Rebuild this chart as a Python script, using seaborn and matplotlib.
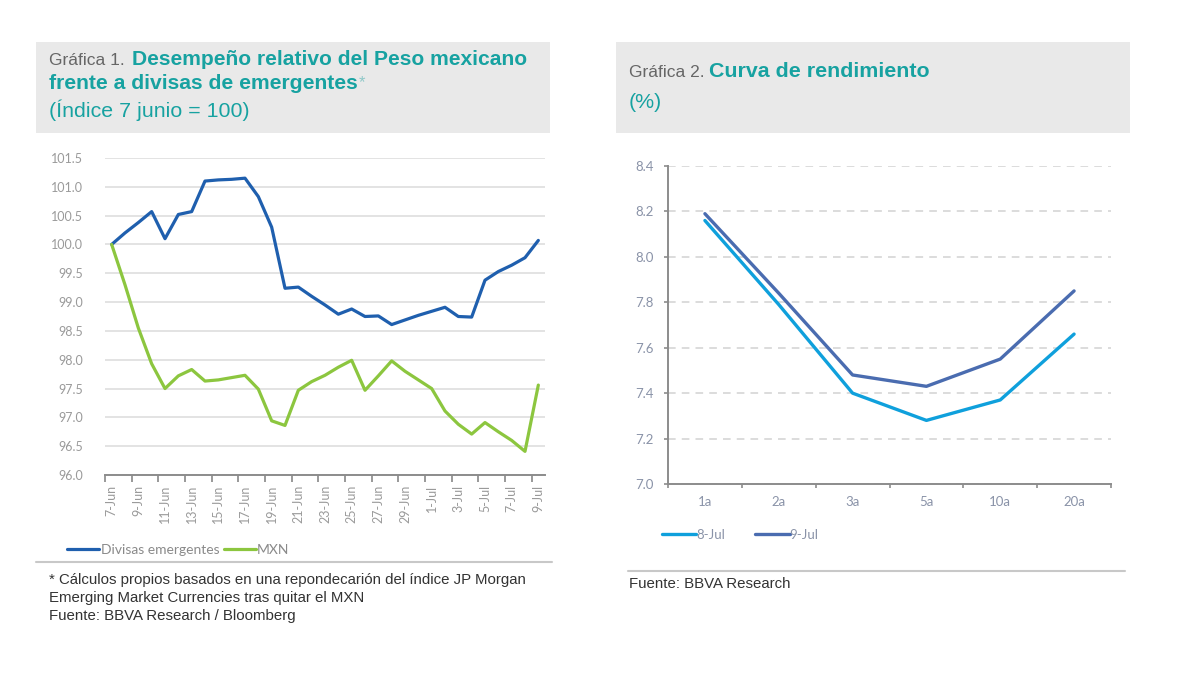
import numpy as np
import pandas as pd
import matplotlib
matplotlib.use("Agg")
import matplotlib.pyplot as plt
import seaborn as sns
from matplotlib.lines import Line2D
from matplotlib.patches import Rectangle

# ---------------- data ----------------
fechas = ["7-Jun", "8-Jun", "9-Jun", "10-Jun", "11-Jun", "12-Jun", "13-Jun", "14-Jun",
          "15-Jun", "16-Jun", "17-Jun", "18-Jun", "19-Jun", "20-Jun", "21-Jun", "22-Jun",
          "23-Jun", "24-Jun", "25-Jun", "26-Jun", "27-Jun", "28-Jun", "29-Jun", "30-Jun",
          "1-Jul", "2-Jul", "3-Jul", "4-Jul", "5-Jul", "6-Jul", "7-Jul", "8-Jul", "9-Jul"]
divisas = [100.0, 100.2, 100.38, 100.57, 100.1, 100.52, 100.57, 101.1, 101.12, 101.13,
           101.15, 100.83, 100.3, 99.24, 99.26, 99.1, 98.95, 98.79, 98.88, 98.75,
           98.76, 98.61, 98.69, 98.77, 98.84, 98.91, 98.75, 98.74, 99.38, 99.53,
           99.64, 99.77, 100.07]
mxn = [100.0, 99.3, 98.55, 97.93, 97.5, 97.72, 97.83, 97.63, 97.65, 97.69,
       97.73, 97.49, 96.94, 96.86, 97.47, 97.62, 97.73, 97.87, 97.99, 97.47,
       97.72, 97.98, 97.8, 97.65, 97.5, 97.11, 96.88, 96.71, 96.91, 96.75,
       96.6, 96.41, 97.56]
series_izq = ["Divisas emergentes", "MXN"]

plazos = ["1a", "2a", "3a", "5a", "10a", "20a"]
jul8 = [8.16, 7.79, 7.40, 7.28, 7.37, 7.66]
jul9 = [8.19, 7.84, 7.48, 7.43, 7.55, 7.85]
series_der = ["8-Jul", "9-Jul"]

y_ticks_izq = [96.0, 96.5, 97.0, 97.5, 98.0, 98.5, 99.0, 99.5, 100.0, 100.5, 101.0, 101.5]
y_ticks_der = [7.0, 7.2, 7.4, 7.6, 7.8, 8.0, 8.2, 8.4]

# ---------------- style ----------------
sns.set_theme(style="white")
plt.rcParams["font.family"] = ["Liberation Sans", "DejaVu Sans"]

W, H = 1198, 680
fig = plt.figure(figsize=(W / 100, H / 100), dpi=100)
fig.patch.set_facecolor("white")

def fx(px):
    return px / W

def fy(py):
    return 1 - py / H

TEAL = "#17a2a1"
GRAYT = "#666666"
C_DIV = "#1f5fae"
C_MXN = "#8cc63f"
C_8 = "#0fa0dc"
C_9 = "#4a6cb0"
TICK_L = "#9a9a9a"
TICK_R = "#8a93a8"
TICKFONT = ["Lato", "DejaVu Sans"]

# ---------------- title boxes ----------------
fig.add_artist(Rectangle((fx(36), fy(133)), (550 - 36) / W, (133 - 42) / H,
                         transform=fig.transFigure, facecolor="#e9e9e9",
                         edgecolor="none", zorder=0))
fig.add_artist(Rectangle((fx(616), fy(133)), (1130 - 616) / W, (133 - 42) / H,
                         transform=fig.transFigure, facecolor="#e9e9e9",
                         edgecolor="none", zorder=0))

fig.text(fx(49), fy(65), "Gráfica 1.", color=GRAYT, fontsize=12.5, va="baseline")
fig.text(fx(132), fy(65), "Desempeño relativo del Peso mexicano", color=TEAL,
         fontsize=15.1, fontweight="bold", va="baseline")
fig.text(fx(49), fy(89), "frente a divisas de emergentes", color=TEAL,
         fontsize=15.2, fontweight="bold", va="baseline")
fig.text(fx(359), fy(87), "*", color="#8fc8c8", fontsize=12, va="baseline")
fig.text(fx(49), fy(117), "(Índice 7 junio = 100)", color=TEAL, fontsize=15.4,
         va="baseline")

fig.text(fx(629), fy(77), "Gráfica 2.", color=GRAYT, fontsize=12.5, va="baseline")
fig.text(fx(709), fy(77), "Curva de rendimiento", color=TEAL, fontsize=15.4,
         fontweight="bold", va="baseline")
fig.text(fx(629), fy(108), "(%)", color=TEAL, fontsize=15.4, va="baseline")

# ---------------- left chart ----------------
df_izq = pd.DataFrame({
    "fecha": fechas * 2,
    "valor": divisas + mxn,
    "serie": [series_izq[0]] * len(fechas) + [series_izq[1]] * len(fechas),
})
ax1 = fig.add_axes([fx(105), fy(475), (545 - 105) / W, (475 - 158) / H])
sns.lineplot(data=df_izq, x="fecha", y="valor", hue="serie", sort=False,
             palette={series_izq[0]: C_DIV, series_izq[1]: C_MXN},
             linewidth=2.3, legend=False, ax=ax1)
ax1.set_xlim(-0.5, len(fechas) - 0.5)
ax1.set_ylim(96.0, 101.5)
ax1.set_yticks(y_ticks_izq)
ax1.set_yticklabels([f"{v:.1f}" for v in y_ticks_izq], color=TICK_L,
                    fontsize=9, family=TICKFONT)
ax1.set_xticks(range(0, len(fechas), 2))
ax1.set_xticklabels(fechas[::2], rotation=90, color=TICK_L, fontsize=9,
                    family=TICKFONT)
ax1.set_xticks(np.arange(-0.5, len(fechas), 2), minor=True)
ax1.tick_params(axis="x", which="major", length=0, pad=7)
ax1.tick_params(axis="x", which="minor", length=5, width=1.2, color="#888888",
                direction="out", bottom=True)
ax1.tick_params(axis="y", length=0, pad=16)
ax1.set_xlabel("")
ax1.set_ylabel("")
ax1.grid(axis="y", color="#e3e3e3", linewidth=1.4)
ax1.set_axisbelow(True)
for s in ["top", "right", "left"]:
    ax1.spines[s].set_visible(False)
ax1.spines["bottom"].set_color("#8c8c8c")
ax1.spines["bottom"].set_linewidth(1.4)

h1 = [Line2D([], [], color=C_DIV, lw=2.3), Line2D([], [], color=C_MXN, lw=2.3)]
fig.legend(h1, series_izq, loc="center left", bbox_to_anchor=(fx(55), fy(550)),
           ncol=2, frameon=False, handlelength=2.3, handletextpad=0.1,
           columnspacing=0.3, prop={"family": TICKFONT, "size": 10},
           labelcolor="#8a8a8a")

fig.add_artist(Line2D([fx(36), fx(552)], [fy(562), fy(562)], color="#c8c8c8",
                      lw=1.5, transform=fig.transFigure))
fig.text(fx(49), fy(584), "* Cálculos propios basados en una repondecarión del índice JP Morgan",
         color="#333333", fontsize=10.8, va="baseline")
fig.text(fx(49), fy(602), "Emerging Market Currencies tras quitar el MXN",
         color="#333333", fontsize=10.8, va="baseline")
fig.text(fx(49), fy(620), "Fuente: BBVA Research / Bloomberg",
         color="#333333", fontsize=10.8, va="baseline")

# ---------------- right chart ----------------
df_der = pd.DataFrame({
    "plazo": plazos * 2,
    "tasa": jul8 + jul9,
    "serie": [series_der[0]] * len(plazos) + [series_der[1]] * len(plazos),
})
ax2 = fig.add_axes([fx(668), fy(484), (1111 - 668) / W, (484 - 166) / H])
sns.lineplot(data=df_der, x="plazo", y="tasa", hue="serie", sort=False,
             palette={series_der[0]: C_8, series_der[1]: C_9},
             linewidth=2.4, legend=False, ax=ax2)
ax2.set_xlim(-0.5, len(plazos) - 0.5)
ax2.set_ylim(7.0, 8.4)
ax2.set_yticks(y_ticks_der)
ax2.set_yticklabels([f"{v:.1f}" for v in y_ticks_der], color=TICK_R,
                    fontsize=9.5, family=TICKFONT)
ax2.set_xticks(range(len(plazos)))
ax2.set_xticklabels(plazos, color=TICK_R, fontsize=9.5, family=TICKFONT)
ax2.set_xticks(np.arange(-0.5, len(plazos), 1), minor=True)
ax2.tick_params(axis="x", which="major", length=0, pad=9)
ax2.tick_params(axis="x", which="minor", length=3, width=1.2, color="#8c8c8c",
                direction="out", bottom=True)
ax2.tick_params(axis="y", length=3, width=1.2, color="#8c8c8c", direction="out",
                left=True, pad=7)
ax2.set_xlabel("")
ax2.set_ylabel("")
ax2.grid(axis="y", color="#d2d2d2", linewidth=1.1, linestyle=(0, (5, 4)))
ax2.set_axisbelow(True)
for s in ["top", "right"]:
    ax2.spines[s].set_visible(False)
for s in ["left", "bottom"]:
    ax2.spines[s].set_color("#8c8c8c")
    ax2.spines[s].set_linewidth(1.4)

h2 = [Line2D([], [], color=C_8, lw=2.4), Line2D([], [], color=C_9, lw=2.4)]
fig.legend(h2, series_der, loc="center left", bbox_to_anchor=(fx(650), fy(535)),
           ncol=2, frameon=False, handlelength=2.6, handletextpad=0.0,
           columnspacing=2.3, prop={"family": TICKFONT, "size": 9.5},
           labelcolor=TICK_R)

fig.add_artist(Line2D([fx(628), fx(1125)], [fy(571), fy(571)], color="#c8c8c8",
                      lw=1.5, transform=fig.transFigure))
fig.text(fx(629), fy(588), "Fuente: BBVA Research", color="#333333",
         fontsize=10.8, va="baseline")

fig.savefig("out.png", dpi=100, facecolor="white")
